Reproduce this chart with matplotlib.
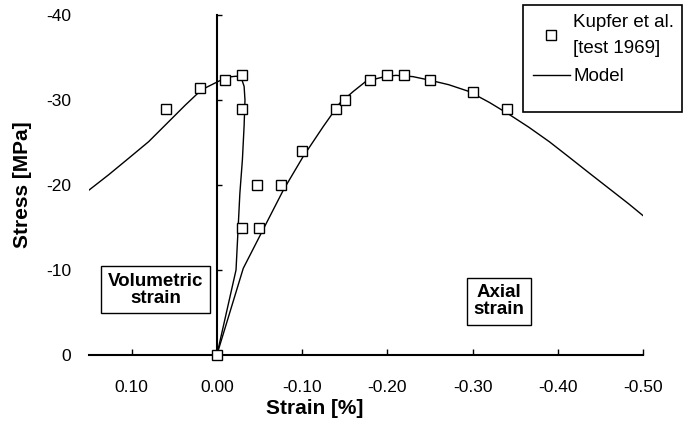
import numpy as np
import matplotlib
matplotlib.use('Agg')
import matplotlib.pyplot as plt
from matplotlib.patches import Rectangle
from matplotlib.ticker import FormatStrFormatter

plt.rcParams['font.family'] = ['Liberation Sans', 'DejaVu Sans']
plt.rcParams['axes.unicode_minus'] = False

# Kupfer et al. test points (strain in %, stress in MPa)
test_strain = [0.0, 0.06, 0.02, -0.01, -0.03, -0.03, -0.03, -0.047, -0.05,
               -0.075, -0.10, -0.14, -0.15, -0.18, -0.20, -0.22, -0.25, -0.30, -0.34]
test_stress = [0, -29, -31.4, -32.4, -33, -29, -15, -20, -15,
               -20, -24, -29, -30, -32.4, -33, -33, -32.4, -31, -29]

# model, volumetric branch
vol_strain = [0.0, -0.0225, -0.027, -0.030, -0.032, -0.033, -0.032, -0.029, -0.023,
              -0.013, -0.002, 0.018, 0.037, 0.057, 0.080, 0.104, 0.127, 0.150]
vol_stress = [0, -10, -19, -23, -27, -30, -31.6, -32.5, -32.8,
              -32.7, -32.2, -31.2, -29.4, -27.4, -25.1, -23.1, -21.2, -19.4]

# model, axial branch
ax_strain = [0.0, -0.031, -0.056, -0.078, -0.101, -0.125, -0.144, -0.160, -0.175,
             -0.195, -0.210, -0.230, -0.249, -0.272, -0.296, -0.320, -0.343, -0.366,
             -0.390, -0.413, -0.437, -0.460, -0.483, -0.50]
ax_stress = [0, -10.2, -15.1, -19.4, -23.3, -26.9, -29.6, -31, -32.2,
             -32.7, -32.9, -32.75, -32.35, -31.8, -31, -29.7, -28.3, -26.8,
             -25.1, -23.3, -21.4, -19.6, -17.8, -16.4]

x_ticks = [0.10, 0.0, -0.10, -0.20, -0.30, -0.40, -0.50]
y_ticks = [0, -10, -20, -30, -40]

fig = plt.figure(figsize=(6.83, 4.25), dpi=100)
ax = fig.add_axes([89 / 683, 70 / 425, 554 / 683, 340 / 425])

ax.plot(vol_strain, vol_stress, color='black', lw=1.0, label='Model')
ax.plot(ax_strain, ax_stress, color='black', lw=1.0)
ax.plot(test_strain, test_stress, ls='none', marker='s', ms=7, mfc='white',
        mec='black', mew=1.0, label='Kupfer et al.\n[test 1969]', zorder=5, clip_on=False)

ax.set_xlim(0.15, -0.50)
ax.set_ylim(0, -40)

for s in ['top', 'right']:
    ax.spines[s].set_visible(False)
ax.spines['left'].set_position(('data', 0))
ax.spines['left'].set_linewidth(1.5)
ax.spines['bottom'].set_linewidth(1.5)

ax.set_xticks(x_ticks)
ax.xaxis.set_major_formatter(FormatStrFormatter('%.2f'))
ax.tick_params(axis='x', direction='in', length=4, width=1, pad=18, labelsize=12.5)
ax.set_yticks(y_ticks)
ax.tick_params(axis='y', direction='in', length=3.5, width=1, labelleft=False)

# y tick labels sit at the far left, not on the x=0 spine
sec = ax.secondary_yaxis('left')
sec.spines['left'].set_visible(False)
sec.set_yticks(y_ticks)
sec.tick_params(axis='y', length=0, pad=13, labelsize=12.5)

ax.set_xlabel('Strain [%]', fontsize=15, fontweight='bold')
ax.xaxis.set_label_coords(0.408, -0.128)
ax.set_ylabel('Stress [MPa]', fontsize=15, fontweight='bold')
ax.yaxis.set_label_coords(-0.102, 0.5)

box = dict(boxstyle='square,pad=0.35', fc='white', ec='black', lw=1)
ax.text(0.072, -7.7, 'Volumetric\nstrain', ha='center', va='center', fontsize=13.5,
        fontweight='bold', linespacing=1.0, bbox=box)
ax.text(-0.331, -6.3, 'Axial\nstrain', ha='center', va='center', fontsize=13.5,
        fontweight='bold', linespacing=1.0, bbox=box)

# legend with an Excel-like frame drawn separately
h, l = ax.get_legend_handles_labels()
leg = ax.legend(h[::-1], l[::-1], loc='upper left', bbox_to_anchor=(532.7 / 683, 1 - 14 / 425),
                bbox_transform=fig.transFigure, frameon=False, fontsize=13.5, borderpad=0,
                borderaxespad=0, handlelength=2.0, handletextpad=0.15, labelspacing=0.6)
for t in leg.get_texts():
    t.set_linespacing(1.7)
fig.patches.append(Rectangle((522.7 / 683, 1 - 111.7 / 425), 159.3 / 683, 106.7 / 425,
                             transform=fig.transFigure, fill=False, ec='black', lw=1.2))

fig.savefig('out.png', dpi=100)
